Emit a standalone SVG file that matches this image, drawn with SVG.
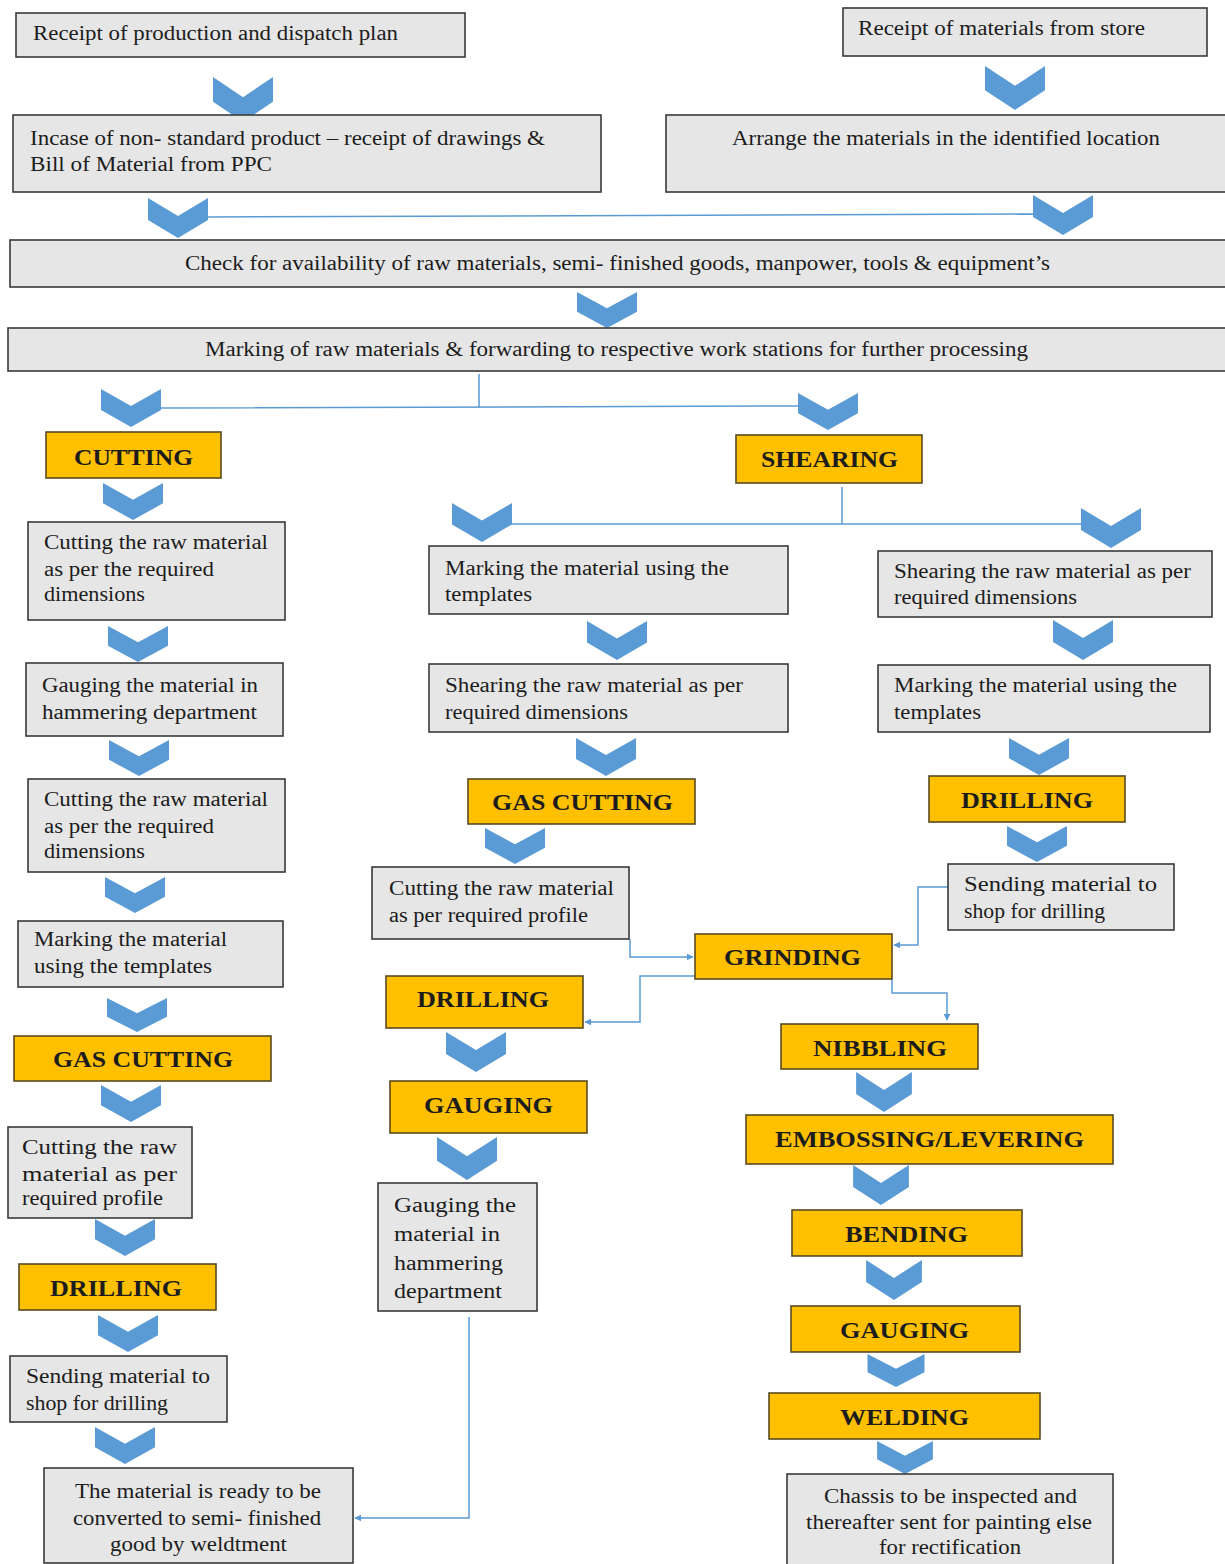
<svg xmlns="http://www.w3.org/2000/svg" xmlns:xlink="http://www.w3.org/1999/xlink" width="1225" height="1564" viewBox="0 0 1225 1564">
<style>
.g{fill:#e6e6e6;stroke:#3a3a3a;stroke-width:1.6}
.y{fill:#ffc000;stroke:#5a4a20;stroke-width:1.6}
.t{font-family:"Liberation Serif",serif;font-size:20px;fill:#1c1c1c}
.b{font-family:"Liberation Serif",serif;font-size:23px;font-weight:bold;fill:#1c1c1c}
.c{fill:#5b9bd5}
.l{fill:none;stroke:#5b9bd5;stroke-width:1.5}
</style>
<defs>
<path id="chev" d="M-30,0 L0,18 L30,0 L30,22 L0,40 L-30,22 Z"/>
<marker id="ah" viewBox="0 0 10 10" refX="9" refY="5" markerWidth="7" markerHeight="7" orient="auto" markerUnits="userSpaceOnUse"><path d="M0,0 L10,5 L0,10 Z" fill="#5b9bd5"/></marker>
</defs>
<rect width="1225" height="1564" fill="#ffffff"/>

<g id="connectors">
<path class="l" d="M208,217 L1033,214"/>
<path class="l" d="M479,374 L479,407 M161,408 L798,406"/>
<path class="l" d="M842,487 L842,524 M511,524 L1081,524"/>
<path class="l" d="M630,939 L630,957 L693,957" marker-end="url(#ah)"/>
<path class="l" d="M948,887 L918,887 L918,945 L894,945" marker-end="url(#ah)"/>
<path class="l" d="M695,976 L640,976 L640,1022 L585,1022" marker-end="url(#ah)"/>
<path class="l" d="M892,979 L892,993 L947,993 L947,1020" marker-end="url(#ah)"/>
<path class="l" d="M469,1317 L469,1518 L355,1518" marker-end="url(#ah)"/>
<g class="c">
<use href="#chev" transform="translate(243,77) scale(1,1.125)"/>
<use href="#chev" transform="translate(1015,66) scale(1,1.1)"/>
<use href="#chev" transform="translate(178,198)"/>
<use href="#chev" transform="translate(1063,195)"/>
<use href="#chev" transform="translate(607,292) scale(1,0.9)"/>
<use href="#chev" transform="translate(131,389) scale(1,0.95)"/>
<use href="#chev" transform="translate(828,393) scale(1,0.925)"/>
<use href="#chev" transform="translate(133,483) scale(1,0.925)"/>
<use href="#chev" transform="translate(482,503) scale(1,0.975)"/>
<use href="#chev" transform="translate(1111,508)"/>
<use href="#chev" transform="translate(138,626) scale(1,0.9)"/>
<use href="#chev" transform="translate(139,740) scale(1,0.9)"/>
<use href="#chev" transform="translate(135,877) scale(1,0.9)"/>
<use href="#chev" transform="translate(137,998) scale(1,0.85)"/>
<use href="#chev" transform="translate(131,1085) scale(1,0.925)"/>
<use href="#chev" transform="translate(125,1219) scale(1,0.925)"/>
<use href="#chev" transform="translate(128,1315) scale(1,0.925)"/>
<use href="#chev" transform="translate(125,1427) scale(1,0.925)"/>
<use href="#chev" transform="translate(617,621) scale(1,0.975)"/>
<use href="#chev" transform="translate(606,738) scale(1,0.95)"/>
<use href="#chev" transform="translate(515,828) scale(1,0.9)"/>
<use href="#chev" transform="translate(476,1032)"/>
<use href="#chev" transform="translate(467,1137) scale(1,1.075)"/>
<use href="#chev" transform="translate(1083,620)"/>
<use href="#chev" transform="translate(1039,738) scale(1,0.925)"/>
<use href="#chev" transform="translate(1037,826) scale(1,0.9)"/>
<use href="#chev" transform="translate(884,1072) scale(0.93,1)"/>
<use href="#chev" transform="translate(881,1165) scale(0.93,1)"/>
<use href="#chev" transform="translate(894,1260) scale(0.93,1)"/>
<use href="#chev" transform="translate(896,1354) scale(0.95,0.825)"/>
<use href="#chev" transform="translate(905,1441) scale(0.93,0.825)"/>
</g>
</g>

<g id="n1"><rect class="g" x="16" y="13" width="449" height="44"/><text class="t" x="33" y="40" textLength="365" lengthAdjust="spacingAndGlyphs">Receipt of production  and dispatch plan</text></g>
<g id="n2"><rect class="g" x="843" y="8" width="364" height="48"/><text class="t" x="858" y="35" textLength="287" lengthAdjust="spacingAndGlyphs">Receipt of materials from store</text></g>
<g id="n3"><rect class="g" x="13" y="115" width="588" height="77"/><text class="t" x="30" y="145" textLength="515" lengthAdjust="spacingAndGlyphs">Incase of non- standard product – receipt of drawings &amp;</text><text class="t" x="30" y="171" textLength="242" lengthAdjust="spacingAndGlyphs">Bill  of Material from PPC</text></g>
<g id="n4"><rect class="g" x="666" y="115" width="560" height="77"/><text class="t" x="732" y="145" textLength="428" lengthAdjust="spacingAndGlyphs">Arrange the materials in the identified  location</text></g>
<g id="n5"><rect class="g" x="10" y="240" width="1216" height="47"/><text class="t" x="185" y="270" textLength="865" lengthAdjust="spacingAndGlyphs">Check for availability  of raw materials, semi- finished  goods, manpower, tools &amp; equipment’s</text></g>
<g id="n6"><rect class="g" x="8" y="328" width="1218" height="43"/><text class="t" x="205" y="356" textLength="823" lengthAdjust="spacingAndGlyphs">Marking of raw materials &amp; forwarding to respective work stations for further processing</text></g>

<g id="cutting"><rect class="y" x="46" y="432" width="175" height="46"/><text class="b" x="74" y="465" textLength="119" lengthAdjust="spacingAndGlyphs">CUTTING</text></g>
<g id="shearing"><rect class="y" x="736" y="435" width="186" height="48"/><text class="b" x="761" y="467" textLength="137" lengthAdjust="spacingAndGlyphs">SHEARING</text></g>

<g id="l1"><rect class="g" x="28" y="522" width="257" height="98"/><text class="t" x="44" y="549" textLength="224" lengthAdjust="spacingAndGlyphs">Cutting  the raw material</text><text class="t" x="44" y="576" textLength="170" lengthAdjust="spacingAndGlyphs">as per the required</text><text class="t" x="44" y="601" textLength="101" lengthAdjust="spacingAndGlyphs">dimensions</text></g>
<g id="l2"><rect class="g" x="26" y="663" width="257" height="73"/><text class="t" x="42" y="692" textLength="216" lengthAdjust="spacingAndGlyphs">Gauging  the material in</text><text class="t" x="42" y="719" textLength="215" lengthAdjust="spacingAndGlyphs">hammering department</text></g>
<g id="l3"><rect class="g" x="28" y="779" width="257" height="93"/><text class="t" x="44" y="806" textLength="224" lengthAdjust="spacingAndGlyphs">Cutting  the raw material</text><text class="t" x="44" y="833" textLength="170" lengthAdjust="spacingAndGlyphs">as per the required</text><text class="t" x="44" y="858" textLength="101" lengthAdjust="spacingAndGlyphs">dimensions</text></g>
<g id="l4"><rect class="g" x="18" y="921" width="265" height="66"/><text class="t" x="34" y="946" textLength="193" lengthAdjust="spacingAndGlyphs">Marking the material</text><text class="t" x="34" y="973" textLength="178" lengthAdjust="spacingAndGlyphs">using the templates</text></g>
<g id="l5"><rect class="y" x="14" y="1036" width="257" height="45"/><text class="b" x="53" y="1067" textLength="180" lengthAdjust="spacingAndGlyphs">GAS CUTTING</text></g>
<g id="l6"><rect class="g" x="8" y="1127" width="184" height="91"/><text class="t" x="22" y="1154" textLength="155" lengthAdjust="spacingAndGlyphs">Cutting  the  raw</text><text class="t" x="22" y="1181" textLength="155" lengthAdjust="spacingAndGlyphs">material  as  per</text><text class="t" x="22" y="1205" textLength="141" lengthAdjust="spacingAndGlyphs">required profile</text></g>
<g id="l7"><rect class="y" x="19" y="1264" width="197" height="46"/><text class="b" x="50" y="1296" textLength="132" lengthAdjust="spacingAndGlyphs">DRILLING</text></g>
<g id="l8"><rect class="g" x="10" y="1356" width="217" height="66"/><text class="t" x="26" y="1383" textLength="184" lengthAdjust="spacingAndGlyphs">Sending  material  to</text><text class="t" x="26" y="1410" textLength="142" lengthAdjust="spacingAndGlyphs">shop  for  drilling</text></g>
<g id="l9"><rect class="g" x="44" y="1468" width="309" height="95"/><text class="t" x="75" y="1498" textLength="246" lengthAdjust="spacingAndGlyphs">The material is ready to be</text><text class="t" x="73" y="1525" textLength="248" lengthAdjust="spacingAndGlyphs">converted to semi-  finished</text><text class="t" x="110" y="1551" textLength="177" lengthAdjust="spacingAndGlyphs">good  by  weldtment</text></g>

<g id="m1"><rect class="g" x="429" y="546" width="359" height="68"/><text class="t" x="445" y="575" textLength="284" lengthAdjust="spacingAndGlyphs">Marking  the material using  the</text><text class="t" x="445" y="601" textLength="87" lengthAdjust="spacingAndGlyphs">templates</text></g>
<g id="m2"><rect class="g" x="429" y="664" width="359" height="68"/><text class="t" x="445" y="692" textLength="298" lengthAdjust="spacingAndGlyphs">Shearing  the raw material as per</text><text class="t" x="445" y="719" textLength="183" lengthAdjust="spacingAndGlyphs">required dimensions</text></g>
<g id="m3"><rect class="y" x="468" y="779" width="227" height="45"/><text class="b" x="492" y="810" textLength="181" lengthAdjust="spacingAndGlyphs">GAS CUTTING</text></g>
<g id="m4"><rect class="g" x="372" y="867" width="257" height="72"/><text class="t" x="389" y="895" textLength="225" lengthAdjust="spacingAndGlyphs">Cutting  the raw material</text><text class="t" x="389" y="922" textLength="199" lengthAdjust="spacingAndGlyphs">as per required profile</text></g>
<g id="m5"><rect class="y" x="386" y="976" width="197" height="52"/><text class="b" x="417" y="1007" textLength="132" lengthAdjust="spacingAndGlyphs">DRILLING</text></g>
<g id="m6"><rect class="y" x="390" y="1081" width="197" height="52"/><text class="b" x="424" y="1113" textLength="129" lengthAdjust="spacingAndGlyphs">GAUGING</text></g>
<g id="m7"><rect class="g" x="378" y="1183" width="159" height="128"/><text class="t" x="394" y="1212" textLength="122" lengthAdjust="spacingAndGlyphs">Gauging   the</text><text class="t" x="394" y="1241" textLength="106" lengthAdjust="spacingAndGlyphs">material   in</text><text class="t" x="394" y="1270" textLength="109" lengthAdjust="spacingAndGlyphs">hammering</text><text class="t" x="394" y="1298" textLength="108" lengthAdjust="spacingAndGlyphs">department</text></g>

<g id="grinding"><rect class="y" x="695" y="934" width="197" height="45"/><text class="b" x="724" y="965" textLength="137" lengthAdjust="spacingAndGlyphs">GRINDING</text></g>

<g id="r1"><rect class="g" x="878" y="551" width="334" height="66"/><text class="t" x="894" y="578" textLength="297" lengthAdjust="spacingAndGlyphs">Shearing the raw material as per</text><text class="t" x="894" y="604" textLength="183" lengthAdjust="spacingAndGlyphs">required dimensions</text></g>
<g id="r2"><rect class="g" x="878" y="665" width="332" height="67"/><text class="t" x="894" y="692" textLength="283" lengthAdjust="spacingAndGlyphs">Marking  the material using  the</text><text class="t" x="894" y="719" textLength="87" lengthAdjust="spacingAndGlyphs">templates</text></g>
<g id="r3"><rect class="y" x="929" y="776" width="196" height="46"/><text class="b" x="961" y="808" textLength="132" lengthAdjust="spacingAndGlyphs">DRILLING</text></g>
<g id="r4"><rect class="g" x="948" y="864" width="226" height="66"/><text class="t" x="964" y="891" textLength="193" lengthAdjust="spacingAndGlyphs">Sending   material   to</text><text class="t" x="964" y="918" textLength="141" lengthAdjust="spacingAndGlyphs">shop  for  drilling</text></g>
<g id="r5"><rect class="y" x="781" y="1024" width="197" height="45"/><text class="b" x="813" y="1056" textLength="134" lengthAdjust="spacingAndGlyphs">NIBBLING</text></g>
<g id="r6"><rect class="y" x="746" y="1115" width="367" height="49"/><text class="b" x="775" y="1147" textLength="309" lengthAdjust="spacingAndGlyphs">EMBOSSING/LEVERING</text></g>
<g id="r7"><rect class="y" x="792" y="1210" width="230" height="46"/><text class="b" x="845" y="1242" textLength="123" lengthAdjust="spacingAndGlyphs">BENDING</text></g>
<g id="r8"><rect class="y" x="791" y="1306" width="229" height="46"/><text class="b" x="840" y="1338" textLength="129" lengthAdjust="spacingAndGlyphs">GAUGING</text></g>
<g id="r9"><rect class="y" x="769" y="1393" width="271" height="46"/><text class="b" x="840" y="1425" textLength="129" lengthAdjust="spacingAndGlyphs">WELDING</text></g>
<g id="r10"><rect class="g" x="787" y="1474" width="326" height="95"/><text class="t" x="824" y="1503" textLength="253" lengthAdjust="spacingAndGlyphs">Chassis to be inspected and</text><text class="t" x="806" y="1529" textLength="286" lengthAdjust="spacingAndGlyphs">thereafter sent for painting  else</text><text class="t" x="879" y="1554" textLength="142" lengthAdjust="spacingAndGlyphs">for rectification</text></g>
</svg>
